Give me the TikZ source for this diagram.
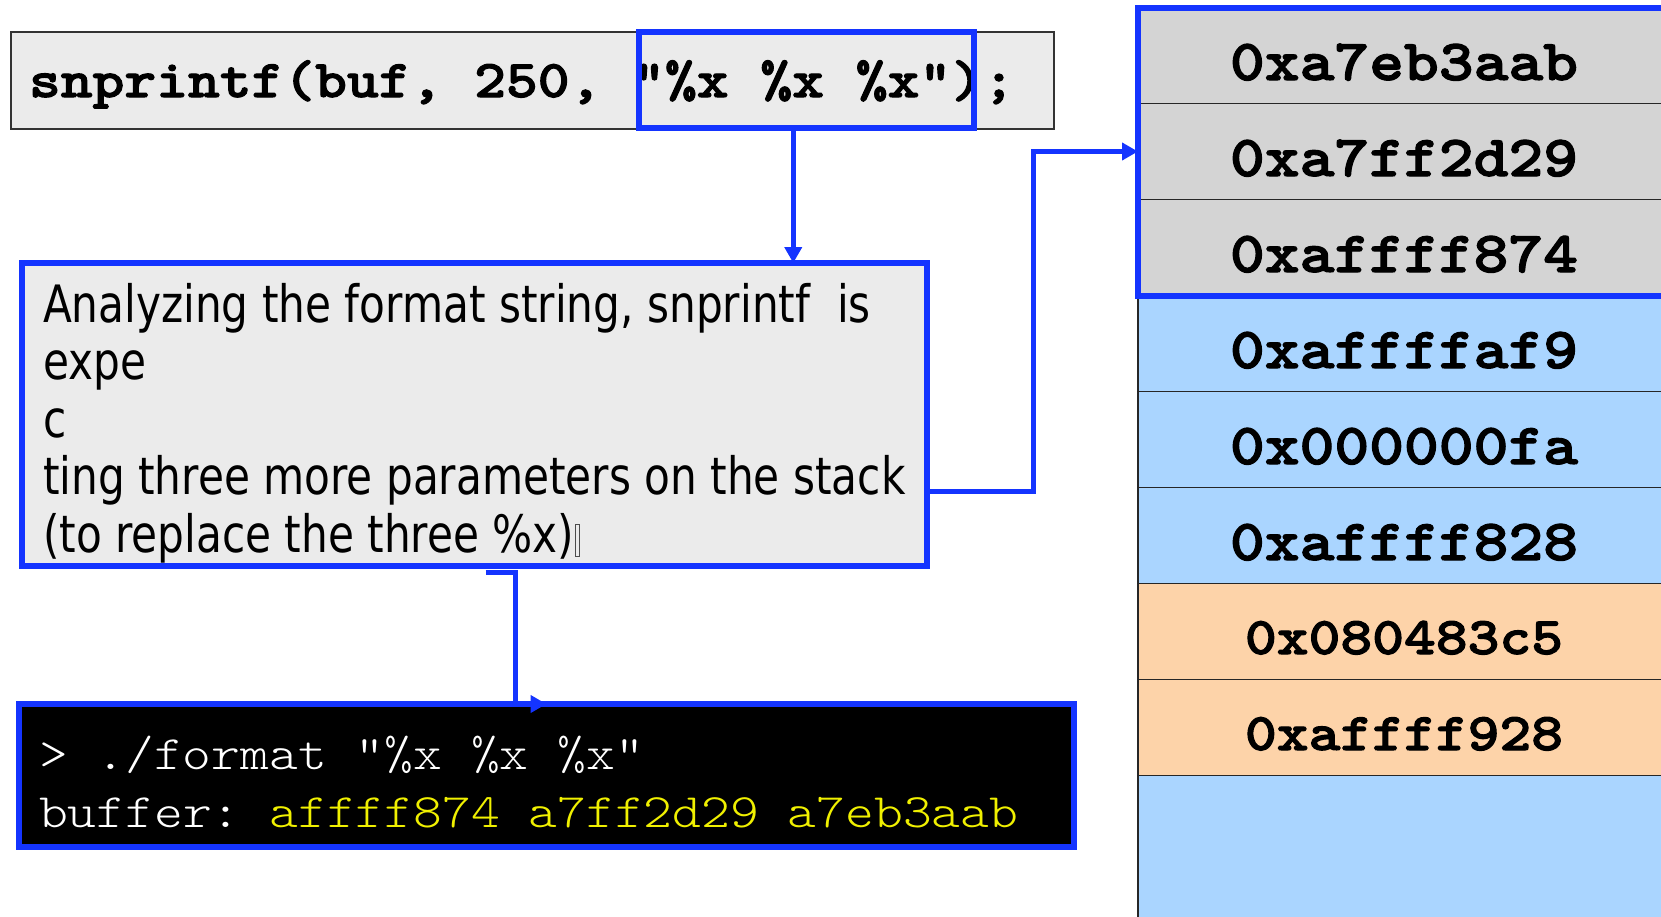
\documentclass[tikz,border=0pt]{standalone}
\usepackage{fontspec}
\usetikzlibrary{arrows.meta}
\newfontfamily\notefont{DejaVu Sans}[FakeStretch=0.82]
\newfontfamily\codefont{lmmonolt10-regular}[Extension=.otf, BoldFont=lmmonolt10-bold, BoldFeatures={FakeBold=2}, FakeStretch=1.143]
\definecolor{hlblue}{RGB}{20,52,255}
\definecolor{boxgray}{RGB}{235,235,235}
\definecolor{slotgray}{RGB}{212,212,212}
\definecolor{slotblue}{RGB}{170,213,255}
\definecolor{slotpeach}{RGB}{253,211,169}
\definecolor{termyellow}{RGB}{240,240,0}
\frenchspacing
\begin{document}
\begin{tikzpicture}[x=1pt,y=-1pt,
  every node/.style={outer sep=0pt, inner sep=0pt},
  conn/.style={draw=hlblue, line width=5pt, -{Triangle[length=16pt,width=17pt]}},
  hlframe/.style={draw=hlblue, line width=6pt},
  panel/.style={anchor=north west, fill=boxgray},
  slot/.style={draw=black!85, line width=1.5pt, minimum width=532pt, anchor=north west},
]
\useasboundingbox (0,0) rectangle (1661,916);

% call line
\node[panel, draw=black!80, line width=1.5pt, minimum width=1043pt, minimum height=97pt] (code) at (11,32) {};
\node[anchor=base west, font=\codefont\bfseries\fontsize{53}{53}\selectfont] (codetext) at (29,97) {snprintf(buf, 250, “\%x \%x \%x”);};
\node[hlframe, anchor=north west, minimum width=335.5pt, minimum height=96.5pt] (fmt) at (638.5,31.5) {};

% explanation box
\node[panel, hlframe, minimum width=905pt, minimum height=303pt] (note) at (22,263) {};
\foreach \t [count=\n] in {{Analyzing the format string, snprintf~ is}, expe, c, ting three more parameters on the stack, {(to replace the three \%x)}}
  \node[anchor=base west, font=\notefont\fontsize{51.5}{57}\selectfont] (l\n) at (43,{322+57.5*(\n-1)}) {\t};
\draw[line width=1pt, black!70] ([xshift=1pt,yshift=-4pt]l5.base east) rectangle ++(4,-32);

% terminal output
\node[hlframe, fill=black, anchor=north west, minimum width=1055pt, minimum height=143pt] (term) at (19,704) {};
\node[anchor=base west, text=white, font=\codefont\fontsize{48}{48}\selectfont] (t1) at (39,769) {> ./format “\%x \%x \%x”};
\node[anchor=base west, text=white, font=\codefont\fontsize{48}{48}\selectfont] (t2) at (39,827) {buffer: \textcolor{termyellow}{affff874 a7ff2d29 a7eb3aab}};

% stack slots
\foreach \k/\val/\col/\fs/\th in {1/0xa7eb3aab/slotgray/58/49, 2/0xa7ff2d29/slotgray/58/49, 3/0xaffff874/slotgray/58/49,
  4/0xaffffaf9/slotblue/58/49, 5/0x000000fa/slotblue/58/49, 6/0xaffff828/slotblue/58/49,
  7/0x080483c5/slotpeach/53/45, 8/0xaffff928/slotpeach/53/45}
  \node[slot, fill=\col, minimum height=96pt, text height=\th pt, text depth=0pt,
        font=\codefont\bfseries\fontsize{\fs}{\fs}\selectfont] (r\k) at (1138,{7.5+96*(\k-1)}) {\val};
\node[slot, fill=slotblue, minimum height=160pt] (r9) at (1138,775.5) {};
\draw[hlframe] (r1.north west) rectangle ([xshift=20pt]r3.south east);

% connectors
\coordinate (a1) at ([xshift=-13pt]fmt.south);
\draw[conn] (a1) -- (a1 |- note.north);
\coordinate (a2) at ([yshift=-77pt]note.east);
\draw[conn] (a2) -- ++(106,0) |- (r2.west);
\coordinate (a3) at ([xshift=11pt,yshift=-6.5pt]note.south);
\draw[conn] (a3) -- ++(30,0) |- (term.north);
\end{tikzpicture}
\end{document}
